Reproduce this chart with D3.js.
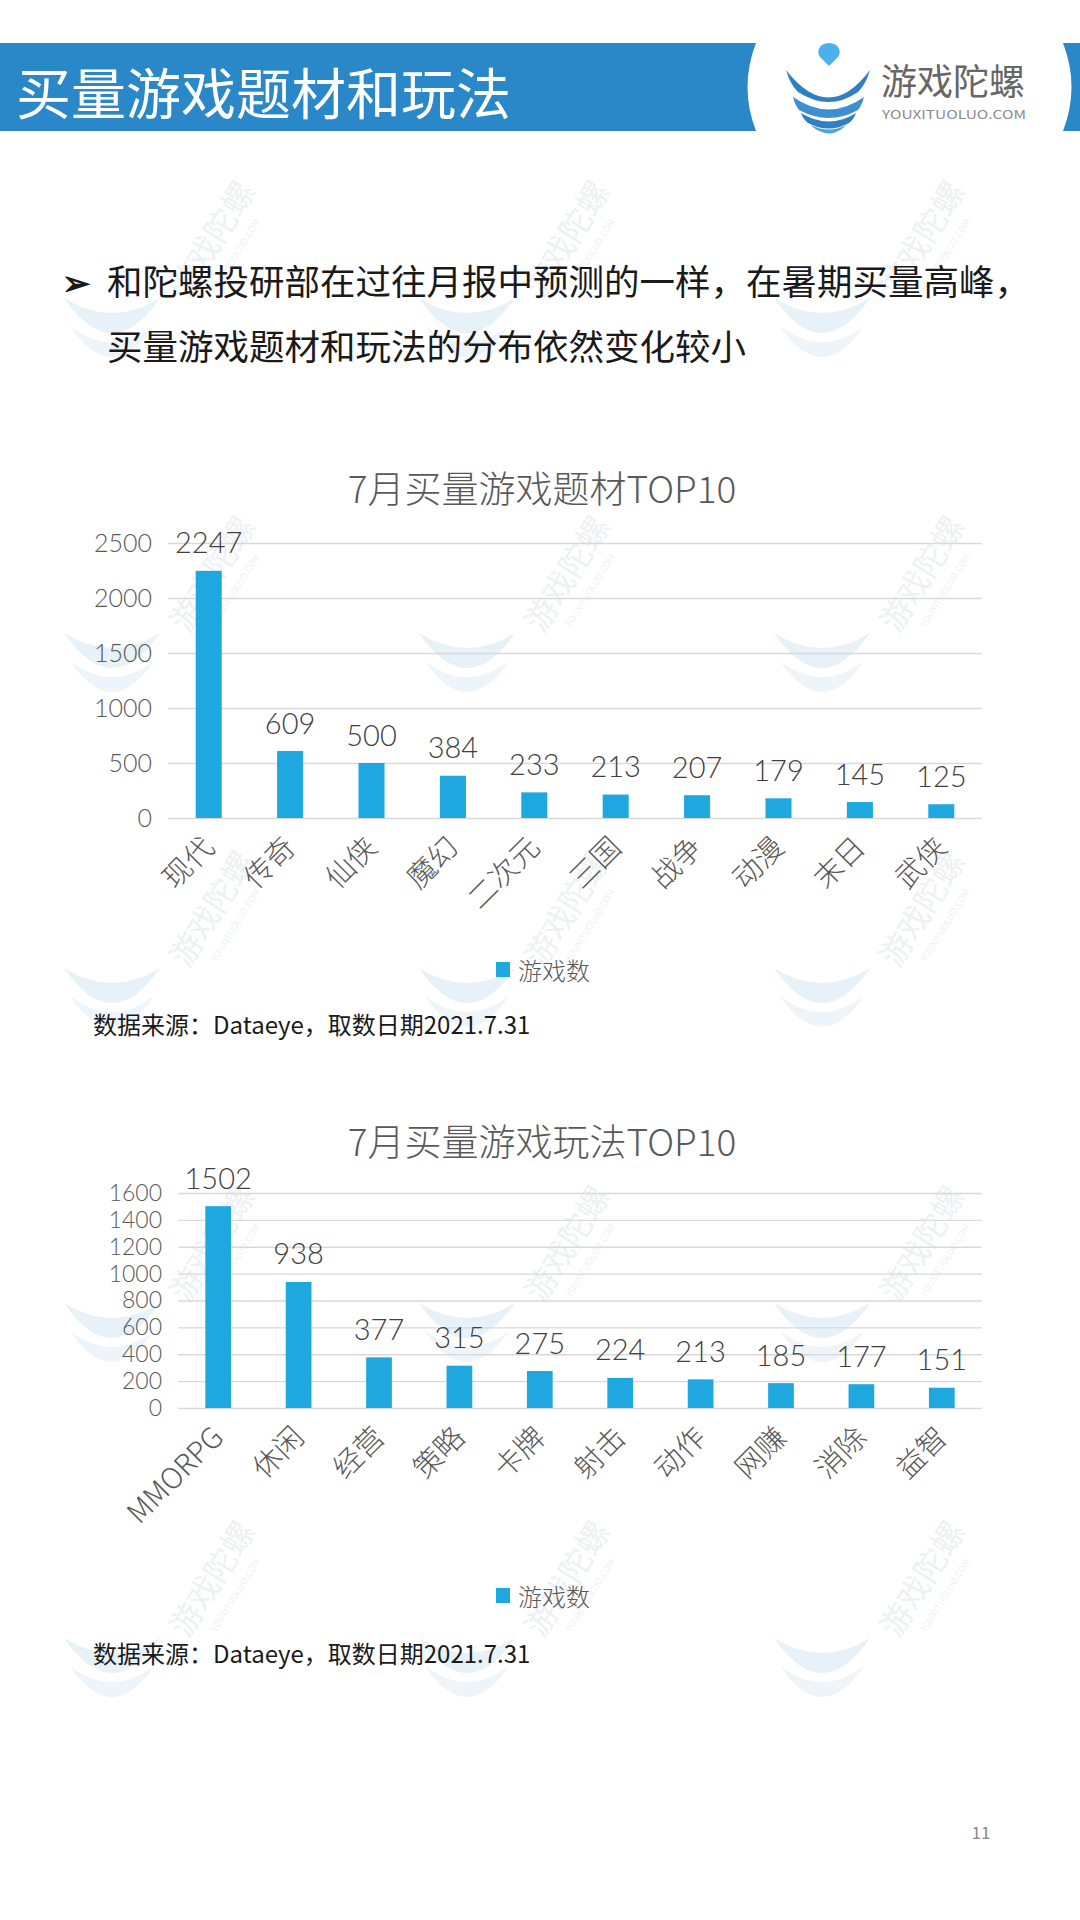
<!DOCTYPE html>
<html>
<head>
<meta charset="utf-8">
<script src="https://cdn.jsdelivr.net/npm/d3@7"></script>
<style>
  html, body { margin: 0; padding: 0; background: #ffffff; }
  svg { display: block; }
  text { font-family: 'Noto Sans CJK SC', 'Noto Sans', sans-serif; }
</style>
</head>
<body>
<svg id="page" width="1080" height="1920"></svg>
<script>
// ---------------- DATA ----------------
const themeCategories = ["现代", "传奇", "仙侠", "魔幻", "二次元", "三国", "战争", "动漫", "末日", "武侠"];
const themeValues = [2247, 609, 500, 384, 233, 213, 207, 179, 145, 125];
const themeTicks = [0, 500, 1000, 1500, 2000, 2500];

const playCategories = ["MMORPG", "休闲", "经营", "策略", "卡牌", "射击", "动作", "网赚", "消除", "益智"];
const playValues = [1502, 938, 377, 315, 275, 224, 213, 185, 177, 151];
const playTicks = [0, 200, 400, 600, 800, 1000, 1200, 1400, 1600];

const pageTitle = "买量游戏题材和玩法";
const bulletLines = ["和陀螺投研部在过往月报中预测的一样，在暑期买量高峰，", "买量游戏题材和玩法的分布依然变化较小"];
const chartTitles = ["7月买量游戏题材TOP10", "7月买量游戏玩法TOP10"];
const legendLabel = "游戏数";
const sourceNote = "数据来源：Dataeye，取数日期2021.7.31";
const pageNumber = "11";

// ---------------- DRAW ----------------
const svg = d3.select("#page");
const BAR = "#1fa8e0";
const GRID = "#d9d9d9";
const NUMFONT = "Lato, 'Noto Sans', sans-serif";

// watermarks (faint)
const wm = svg.append("g").attr("class", "watermarks");
const wmCols = [0, 355, 710];
const wmRows = [0, 335, 670, 1005, 1340];
wmRows.forEach(r => wmCols.forEach(c => {
  const g = wm.append("g").attr("transform", `translate(${c},${r})`);
  const lx = 112, ly = 318;
  g.append("path")
    .attr("d", `M${lx-48},${ly-20} Q${lx},${ly+50} ${lx+48},${ly-20} Q${lx},${ly+10} ${lx-48},${ly-20} Z`)
    .attr("fill", "#e6f1f8");
  g.append("path")
    .attr("d", `M${lx-42},${ly+8} Q${lx},${ly+70} ${lx+42},${ly+8} Q${lx},${ly+40} ${lx-42},${ly+8} Z`)
    .attr("fill", "#eef5fa");
  g.append("text")
    .attr("transform", `translate(222,245) rotate(-58)`)
    .attr("text-anchor", "middle")
    .attr("font-size", 32)
    .attr("fill", "#eef1f4")
    .text("游戏陀螺");
  g.append("text")
    .attr("transform", `translate(238,257) rotate(-58)`)
    .attr("text-anchor", "middle")
    .attr("font-size", 9)
    .attr("fill", "#eef1f4")
    .text("YOUXITUOLUO.COM");
}));

// header
svg.append("rect").attr("x", 0).attr("y", 43).attr("width", 1080).attr("height", 88).attr("fill", "#2a87c8");
svg.append("path")
  .attr("d", "M756,43 L1063,43 Q1080,87 1063,131 L756,131 Q739,87 756,43 Z")
  .attr("fill", "#ffffff");
svg.append("text")
  .attr("x", 16).attr("y", 90)
  .attr("dominant-baseline", "central")
  .attr("font-size", 55)
  .attr("fill", "#ffffff")
  .text(pageTitle);

// header logo
const logo = svg.append("g");
logo.append("path")
  .attr("d", "M829,43 C839,43 842,52 838,57 L829,66 L820,57 C816,52 819,43 829,43 Z")
  .attr("fill", "#4cb1ea");
logo.append("path")
  .attr("d", "M786,70 Q829,125 870,70 Q866,84 858,92 Q829,112 798,92 Q790,84 786,70 Z")
  .attr("fill", "#2f7fc4");
logo.append("path")
  .attr("d", "M793,97 Q829,122 864,97 Q862,105 858,110 Q829,126 799,110 Q795,105 793,97 Z")
  .attr("fill", "#3d8fd0");
logo.append("path")
  .attr("d", "M801,113 Q829,130 856,113 Q854,119 849,123 Q829,134 808,123 Q803,119 801,113 Z")
  .attr("fill", "#2f7fc4");
logo.append("path")
  .attr("d", "M811,125 Q829,134 846,125 Q842,130 836,132 Q829,135 822,132 Q815,130 811,125 Z")
  .attr("fill", "#4ea2dc");
svg.append("text")
  .attr("x", 881).attr("y", 79)
  .attr("dominant-baseline", "central")
  .attr("font-size", 36)
  .attr("fill", "#666666")
  .text("游戏陀螺");
svg.append("text")
  .attr("x", 882).attr("y", 113)
  .attr("dominant-baseline", "central")
  .attr("font-size", 12)
  .attr("textLength", 144)
  .attr("lengthAdjust", "spacingAndGlyphs")
  .attr("fill", "#8a8a8a")
  .text("YOUXITUOLUO.COM");

// bullet text
svg.append("text")
  .attr("x", 62).attr("y", 280)
  .attr("dominant-baseline", "central")
  .attr("font-size", 34)
  .attr("font-weight", 700)
  .attr("fill", "#1a1a1a")
  .text("➢");
bulletLines.forEach((line, i) => {
  svg.append("text")
    .attr("x", 107).attr("y", 279 + i * 65)
    .attr("dominant-baseline", "central")
    .attr("font-size", 35.5)
    .attr("fill", "#1a1a1a")
    .text(line);
});

function drawChart(cfg) {
  const g = svg.append("g");
  const x = d3.scaleBand()
    .domain(cfg.categories)
    .range([cfg.x0, cfg.x1])
    .paddingInner(0.68)
    .paddingOuter(0.34);
  const y = d3.scaleLinear()
    .domain([0, d3.max(cfg.ticks)])
    .range([cfg.yBottom, cfg.yTop]);

  // title
  g.append("text")
    .attr("x", 542).attr("y", cfg.titleY)
    .attr("text-anchor", "middle")
    .attr("dominant-baseline", "central")
    .attr("font-size", 37)
    .attr("font-weight", 300)
    .attr("fill", "#595959")
    .text(cfg.title);

  // y axis with grid
  const yAxis = g.append("g")
    .attr("transform", `translate(${cfg.x0},0)`)
    .call(d3.axisLeft(y).tickValues(cfg.ticks).tickSize(-(cfg.x1 - cfg.x0)).tickPadding(16).tickFormat(d3.format("d")));
  yAxis.select(".domain").remove();
  yAxis.selectAll(".tick line").attr("stroke", GRID).attr("stroke-width", 1.3);
  yAxis.selectAll(".tick text")
    .attr("font-size", cfg.tickFont)
    .attr("font-weight", 300)
    .attr("fill", "#595959")
    .style("font-family", NUMFONT);

  // bars
  g.selectAll("rect.bar")
    .data(cfg.values)
    .join("rect")
    .attr("class", "bar")
    .attr("x", (d, i) => x(cfg.categories[i]))
    .attr("width", x.bandwidth())
    .attr("y", d => y(d))
    .attr("height", d => y(0) - y(d))
    .attr("fill", BAR);

  // value labels
  g.selectAll("text.val")
    .data(cfg.values)
    .join("text")
    .attr("class", "val")
    .attr("x", (d, i) => x(cfg.categories[i]) + x.bandwidth() / 2)
    .attr("y", d => y(d) - 29)
    .attr("text-anchor", "middle")
    .attr("dominant-baseline", "central")
    .attr("font-size", 29)
    .attr("font-weight", 300)
    .attr("fill", "#404040")
    .style("font-family", NUMFONT)
    .text(d => d);

  // category labels (rotated)
  g.selectAll("text.cat")
    .data(cfg.categories)
    .join("text")
    .attr("class", "cat")
    .attr("transform", d => `translate(${x(d) + x.bandwidth() / 2 - 2},${cfg.yBottom + 22}) rotate(-45)`)
    .attr("text-anchor", "end")
    .attr("dominant-baseline", "central")
    .attr("font-size", 29)
    .attr("font-weight", 300)
    .attr("fill", "#595959")
    .text(d => d);

  // legend
  g.append("rect")
    .attr("x", 496).attr("y", cfg.legendY - 7)
    .attr("width", 14).attr("height", 15)
    .attr("fill", BAR);
  g.append("text")
    .attr("x", 518).attr("y", cfg.legendY)
    .attr("dominant-baseline", "central")
    .attr("font-size", 24)
    .attr("font-weight", 300)
    .attr("fill", "#595959")
    .text(legendLabel);

  // source note
  g.append("text")
    .attr("x", 93).attr("y", cfg.sourceY)
    .attr("dominant-baseline", "central")
    .attr("font-size", 24)
    .attr("fill", "#1a1a1a")
    .text(sourceNote);
}

drawChart({
  title: chartTitles[0], categories: themeCategories, values: themeValues, ticks: themeTicks,
  x0: 168, x1: 982, yBottom: 818, yTop: 543, titleY: 487, legendY: 969, sourceY: 1023, tickFont: 25
});
drawChart({
  title: chartTitles[1], categories: playCategories, values: playValues, ticks: playTicks,
  x0: 178, x1: 982, yBottom: 1408, yTop: 1193, titleY: 1140, legendY: 1595, sourceY: 1652, tickFont: 23
});

// page number
svg.append("text")
  .attr("x", 981).attr("y", 1831)
  .attr("text-anchor", "middle")
  .attr("dominant-baseline", "central")
  .attr("font-size", 17)
  .attr("fill", "#888888")
  .text(pageNumber);
</script>
</body>
</html>
